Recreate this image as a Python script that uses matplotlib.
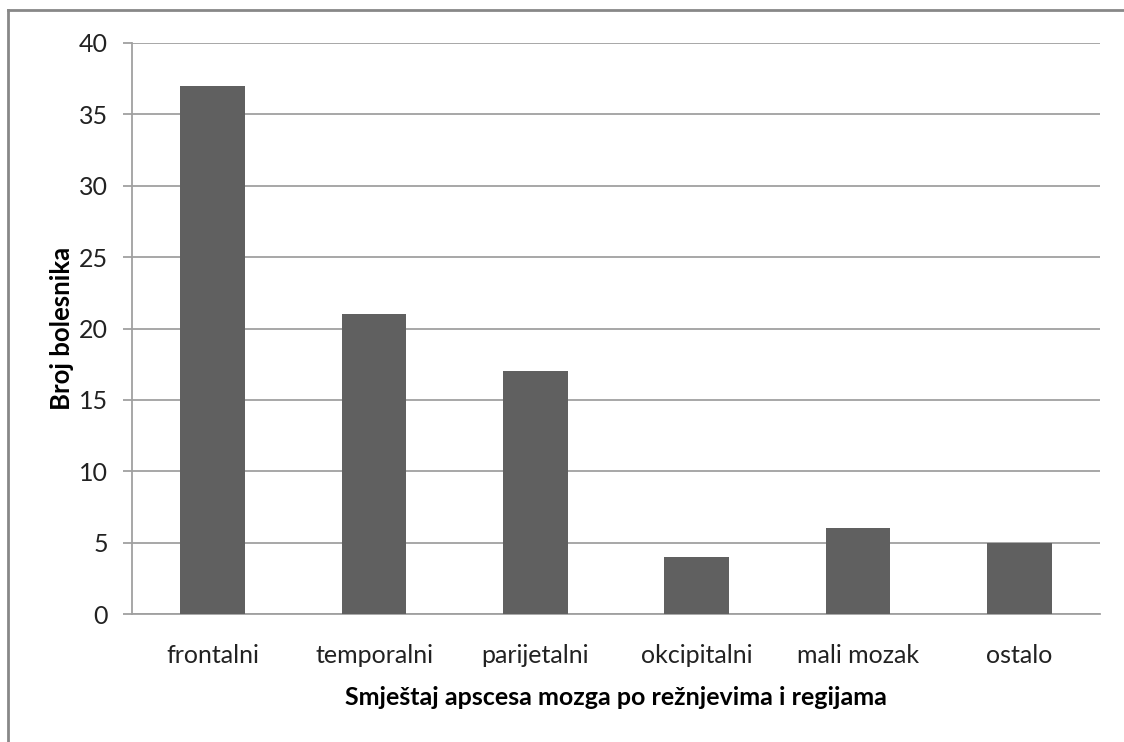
import matplotlib.pyplot as plt
from matplotlib.lines import Line2D

# Data
categories = ['frontalni', 'temporalni', 'parijetalni', 'okcipitalni', 'mali mozak', 'ostalo']
counts = [37, 21, 17, 4, 6, 5]
y_ticks = [0, 5, 10, 15, 20, 25, 30, 35, 40]

plt.rcParams['font.family'] = ['Lato', 'DejaVu Sans']

fig = plt.figure(figsize=(11.24, 7.42), dpi=100)
ax = fig.add_axes([132/1124, 1 - 614/742, (1100 - 132)/1124, (614 - 43)/742])

x = range(len(categories))
ax.bar(x, counts, width=0.4, color='#606060', zorder=3)

ax.set_xlim(-0.5, len(categories) - 0.5)
ax.set_ylim(0, 40)
ax.set_yticks(y_ticks)
ax.set_xticks(list(x))
ax.set_xticklabels(categories, fontsize=18, color='#222222')
ax.tick_params(axis='x', length=0, pad=21.5)
ax.tick_params(axis='y', length=6.5, width=1.3, color='#a0a0a0', pad=11,
               labelsize=18, labelcolor='#222222')

ax.grid(axis='y', color='#a0a0a0', linewidth=1.3, zorder=0)
for side in ['top', 'right']:
    ax.spines[side].set_visible(False)
ax.spines['left'].set_color('#a0a0a0')
ax.spines['left'].set_linewidth(1.3)
ax.spines['bottom'].set_color('#a0a0a0')
ax.spines['bottom'].set_linewidth(1.3)

ax.set_ylabel('Broj bolesnika', fontsize=18.5, fontweight='bold', labelpad=3)
ax.set_xlabel('Smještaj apscesa mozga po režnjevima i regijama', fontsize=18,
              fontweight='bold', labelpad=14)

# outer frame (cropped: only top and left visible)
fig.add_artist(Line2D([8/1124, 1], [1 - 10/742, 1 - 10/742], color='#888888', linewidth=2,
                      transform=fig.transFigure))
fig.add_artist(Line2D([8/1124, 8/1124], [0, 1 - 10/742], color='#888888', linewidth=2,
                      transform=fig.transFigure))

fig.savefig('out.png', dpi=100)
